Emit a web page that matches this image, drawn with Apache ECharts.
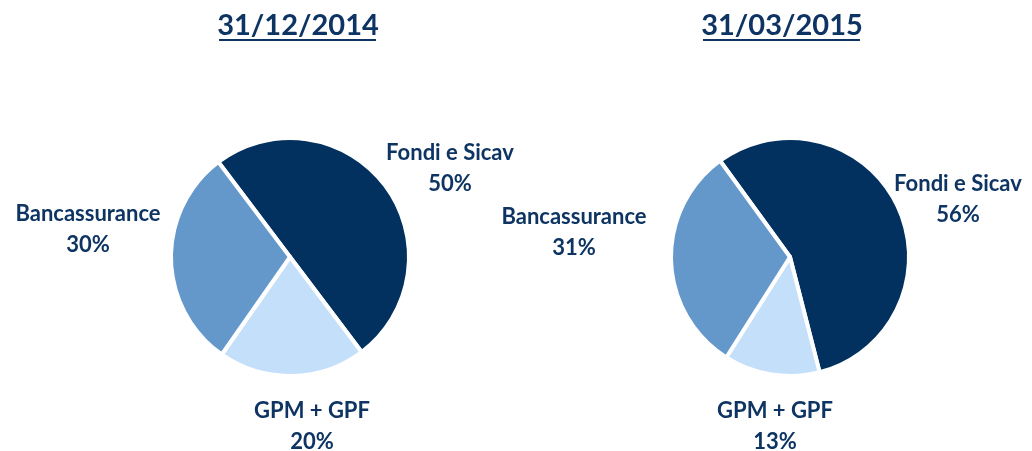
<!DOCTYPE html>
<html>
<head>
<meta charset="utf-8">
<script src="https://cdn.jsdelivr.net/npm/echarts@6/dist/echarts.min.js"></script>
<style>
    html, body { margin: 0; padding: 0; background: #fff; }
    #chart { width: 1032px; height: 451px; }
</style>
</head>
<body>
<div id="chart"></div>
<script>
/* ===================== 数据 ===================== */
var dates = ['31/12/2014', '31/03/2015'];
var categories = ['Fondi e Sicav', 'GPM + GPF', 'Bancassurance'];
var values2014 = [50, 20, 30];
var values2015 = [56, 13, 31];
/* ===================== end ===================== */

var colors = ['#02315f', '#c4dffa', '#6498cb'];
var textColor = '#0d3462';
var font = 'Lato';

// label centres (pixels), per pie, per slice
var labelPos = [
    [[450, 168], [312, 426], [88, 229]],
    [[958, 199], [775, 426], [574, 232]]
];

function pieData(values) {
    return categories.map(function (name, i) {
        return { name: name, value: values[i], itemStyle: { color: colors[i] } };
    });
}

function pieSeries(values, cx, startAngle) {
    return {
        type: 'pie',
        center: [cx, 257],
        radius: 119,
        startAngle: startAngle,
        clockwise: true,
        silent: true,
        animation: false,
        itemStyle: { borderColor: '#fff', borderWidth: 4 },
        label: {
            show: true,
            formatter: '{b}\n{c}%',
            color: textColor,
            fontFamily: font,
            fontWeight: 'bold',
            fontSize: 22,
            lineHeight: 31,
            align: 'center',
            overflow: 'none'
        },
        labelLine: { show: false },
        labelLayout: function (p) {
            var pos = labelPos[p.seriesIndex][p.dataIndex];
            return { x: pos[0], y: pos[1], align: 'center', verticalAlign: 'middle' };
        },
        data: pieData(values)
    };
}

var chart = echarts.init(document.getElementById('chart'));
chart.setOption({
    title: [
        { text: dates[0], left: 293, top: 6, textAlign: 'center',
          textStyle: { color: textColor, fontFamily: font, fontWeight: 'bold', fontSize: 29 } },
        { text: dates[1], left: 777, top: 6, textAlign: 'center',
          textStyle: { color: textColor, fontFamily: font, fontWeight: 'bold', fontSize: 29 } }
    ],
    graphic: [
        { type: 'rect', shape: { x: 219, y: 39, width: 157, height: 2 }, style: { fill: textColor } },
        { type: 'rect', shape: { x: 703, y: 39, width: 157, height: 2 }, style: { fill: textColor } }
    ],
    series: [
        pieSeries(values2014, 290, 127),
        pieSeries(values2015, 790, 126)
    ]
});
</script>
</body>
</html>
